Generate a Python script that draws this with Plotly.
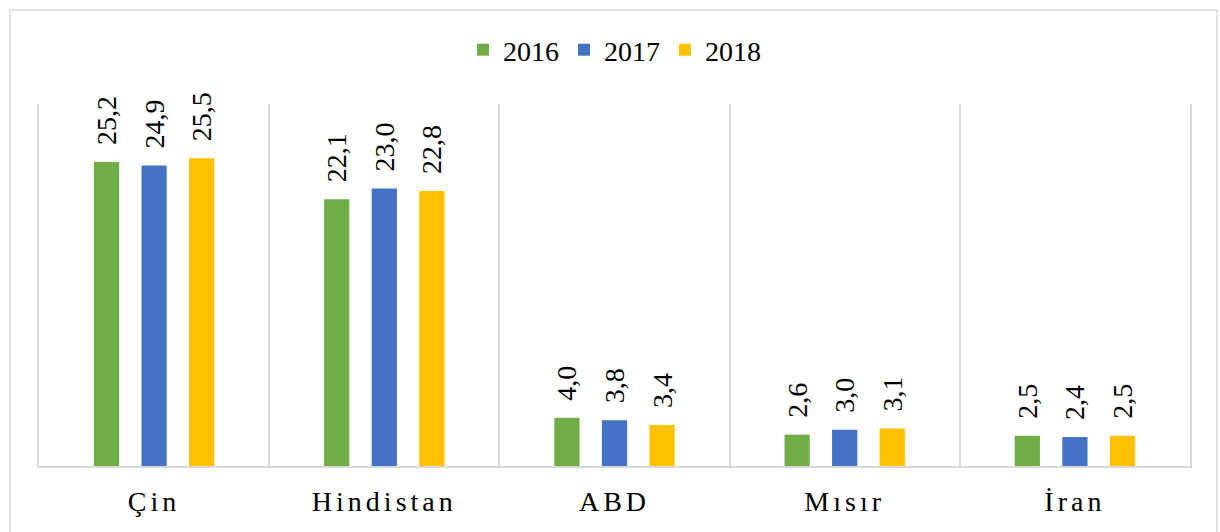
import plotly.graph_objects as go

# ── Data ──────────────────────────────────────────────────────────────────────
COUNTRIES = ["Çin", "Hindistan", "ABD", "Mısır", "İran"]
YEARS = ["2016", "2017", "2018"]
V2016 = [25.2, 22.1, 4.0, 2.6, 2.5]
V2017 = [24.9, 23.0, 3.8, 3.0, 2.4]
V2018 = [25.5, 22.8, 3.4, 3.1, 2.5]

COLORS = {"2016": "#70AD47", "2017": "#4472C4", "2018": "#FFC000"}
FONT = "Liberation Serif, Times New Roman, serif"
GRID = "#D9D9D9"

W, H = 1220, 532
L, R, T, B = 39, 30, 104, 66

fig = go.Figure()
for year, vals in zip(YEARS, [V2016, V2017, V2018]):
    fig.add_trace(go.Bar(
        name=year,
        x=COUNTRIES,
        y=vals,
        marker_color=COLORS[year],
        marker_line_width=0,
        texttemplate="\u00a0\u00a0%{y:.1f}",
        textposition="outside",
        textangle=-90,
        textfont=dict(size=28, color="#000000", family=FONT),
        constraintext="none",
        cliponaxis=False,
    ))

# outer chart border, in paper units
pw, ph = W - L - R, H - T - B
fig.add_shape(
    type="rect", xref="paper", yref="paper",
    x0=(10 - L) / pw, x1=(1217 - L) / pw,
    y0=-(B + 20) / ph, y1=(H - 10 - B) / ph,
    line=dict(color="#D9D9D9", width=1.5),
)

fig.update_layout(
    width=W, height=H,
    paper_bgcolor="white", plot_bgcolor="white",
    font=dict(family=FONT, size=28, color="#000000"),
    separators=",.",
    barmode="group",
    bargap=0.38,
    bargroupgap=0.47,
    margin=dict(l=L, r=R, t=T, b=B),
    legend=dict(
        orientation="h",
        xanchor="center", x=0.5,
        yanchor="middle", y=1 + (T - 50) / ph,
        font=dict(size=28, family=FONT),
        itemwidth=30,
    ),
    xaxis=dict(
        type="category",
        tickson="boundaries",
        showgrid=True, gridcolor=GRID, gridwidth=1.5,
        showline=True, linecolor=GRID, linewidth=1.5,
        ticks="",
        ticklabelstandoff=10,
        tickvals=COUNTRIES,
        ticktext=[f'<span style="letter-spacing:4px">{c}</span>' for c in COUNTRIES],
        tickfont=dict(size=28, family=FONT),
    ),
    yaxis=dict(
        range=[0, 30],
        showgrid=False, zeroline=False,
        showticklabels=False,
        showline=True, linecolor=GRID, linewidth=1.5, mirror=True,
        ticks="",
    ),
)

fig.write_html(
    "out.html",
    config={"displayModeBar": False},
    post_script="document.body.style.margin='0';document.body.style.overflow='hidden';",
)
